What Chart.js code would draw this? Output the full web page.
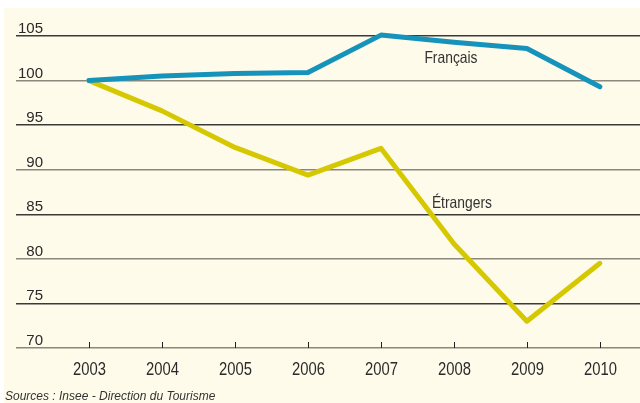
<!DOCTYPE html>
<html>
<head>
<meta charset="utf-8">
<script src="https://cdn.jsdelivr.net/npm/chart.js@4"></script>
<style>
html,body{margin:0;padding:0;background:#fff;}
#wrap{position:absolute;left:4px;top:8px;width:636px;height:395px;background:#FEFBEA;}
canvas{position:absolute;left:0;top:0;}
</style>
</head>
<body>
<div id="wrap"></div>
<canvas id="c" width="640" height="403"></canvas>
<script>
const years = [2003, 2004, 2005, 2006, 2007, 2008, 2009, 2010];
const francais = [100, 100.5, 100.8, 100.9, 105.1, 104.3, 103.6, 99.3];
const etrangers = [100, 96.6, 92.5, 89.4, 92.4, 81.7, 73.0, 79.5];
const yTicks = [70, 75, 80, 85, 90, 95, 100, 105];
const seriesNames = ['Français', 'Étrangers'];
const sourceText = 'Sources : Insee - Direction du Tourisme';

const FONT = '"Liberation Sans", Arial, sans-serif';

function narrowText(ctx, txt, x, y, sx) {
  ctx.save();
  ctx.translate(x, y);
  ctx.scale(sx, 1);
  ctx.fillText(txt, 0, 0);
  ctx.restore();
}

const labelsPlugin = {
  id: 'labels',
  afterDraw(chart) {
    const ctx = chart.ctx;
    const xs = chart.scales.x, ys = chart.scales.y;
    ctx.save();
    ctx.fillStyle = '#2a2a2a';
    ctx.font = '15.5px ' + FONT;
    ctx.textAlign = 'right';
    ctx.textBaseline = 'alphabetic';
    yTicks.forEach(v => {
      narrowText(ctx, String(v), 43, ys.getPixelForValue(v) - 3, 0.97);
    });
    const yb = ys.getPixelForValue(yTicks[0]);
    ctx.textAlign = 'center';
    ctx.strokeStyle = '#222';
    ctx.lineWidth = 1;
    ctx.font = '18.5px ' + FONT;
    years.forEach(y => {
      const px = Math.round(xs.getPixelForValue(y)) + 0.5;
      ctx.beginPath();
      ctx.moveTo(px, yb - 6);
      ctx.lineTo(px, yb);
      ctx.stroke();
      narrowText(ctx, String(y), px, yb + 27, 0.8);
    });
    ctx.font = '16.5px ' + FONT;
    ctx.fillStyle = '#333';
    narrowText(ctx, seriesNames[0], xs.getPixelForValue(2007.96), ys.getPixelForValue(102.0), 0.84);
    narrowText(ctx, seriesNames[1], xs.getPixelForValue(2008.11), ys.getPixelForValue(85.75), 0.84);
    ctx.textAlign = 'left';
    ctx.font = 'italic 12.5px ' + FONT;
    ctx.fillStyle = '#333';
    narrowText(ctx, sourceText, 5, 400, 0.96);
    ctx.restore();
  }
};

new Chart(document.getElementById('c'), {
  type: 'line',
  data: {
    datasets: [
      {
        label: seriesNames[0],
        data: years.map((y, i) => ({x: y, y: francais[i]})),
        borderColor: '#1593BB',
        borderWidth: 5,
        pointRadius: 0,
        tension: 0,
        borderCapStyle: 'round',
        borderJoinStyle: 'round',
        clip: false
      },
      {
        label: seriesNames[1],
        data: years.map((y, i) => ({x: y, y: etrangers[i]})),
        borderColor: '#D6C800',
        borderWidth: 5,
        pointRadius: 0,
        tension: 0,
        borderCapStyle: 'round',
        borderJoinStyle: 'round',
        clip: false
      }
    ]
  },
  options: {
    responsive: false,
    animation: false,
    events: [],
    layout: {padding: {left: 16, right: 0, top: 36, bottom: 55}},
    plugins: {legend: {display: false}, tooltip: {enabled: false}, title: {display: false}},
    scales: {
      x: {
        type: 'linear',
        min: 2002,
        max: 2010.55,
        display: false
      },
      y: {
        type: 'linear',
        min: 70,
        max: 105,
        afterBuildTicks: s => { s.ticks = yTicks.map(v => ({value: v})); },
        ticks: {display: false},
        border: {display: false},
        grid: {
          drawTicks: false,
          tickLength: 0,
          lineWidth: 1.5,
          color: c => (c.tick && c.tick.value % 10 === 0) ? '#8a877c' : '#3a3a3a'
        }
      }
    }
  },
  plugins: [labelsPlugin]
});
</script>
</body>
</html>
